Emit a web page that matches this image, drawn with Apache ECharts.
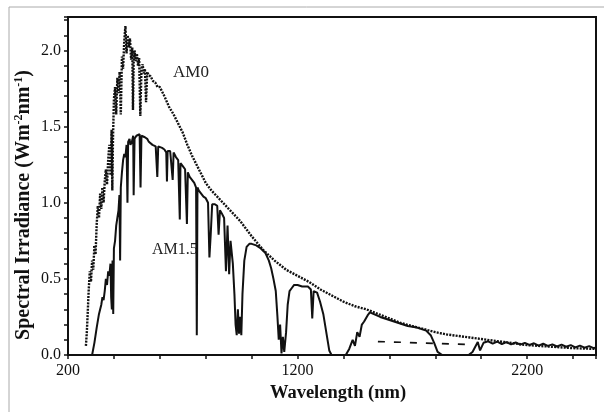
<!DOCTYPE html>
<html>
<head>
<meta charset="utf-8">
<script src="https://cdn.jsdelivr.net/npm/echarts@6/dist/echarts.min.js"></script>
<style>
    html, body { margin: 0; padding: 0; background: #fff; }
    #chart { width: 604px; height: 412px; }
</style>
</head>
<body>
<div id="chart"></div>
<script>
    // wavelength (nm), irradiance (W m-2 nm-1)
    var am0 = [
        [278, 0.06], [282, 0.15], [286, 0.28], [290, 0.42], [295, 0.55], [300, 0.48], [305, 0.62],
        [310, 0.56], [315, 0.72], [320, 0.66], [325, 0.86], [330, 0.98], [335, 0.9], [340, 1.06],
        [345, 0.96], [350, 1.1], [355, 1.0], [360, 1.14], [365, 1.22], [370, 1.12], [375, 1.28],
        [380, 1.38], [385, 1.18], [390, 1.48], [393, 1.08], [396, 1.42], [400, 1.68], [405, 1.76],
        [410, 1.58], [415, 1.82], [420, 1.72], [425, 1.86], [430, 1.58], [435, 1.96], [440, 1.88],
        [445, 2.06], [450, 2.16], [455, 1.98], [460, 2.1], [465, 2.02], [470, 2.08], [475, 1.94],
        [480, 2.02], [483, 1.61], [486, 1.92], [490, 2.0], [495, 1.93], [500, 1.98], [505, 1.9],
        [510, 1.95], [515, 1.57], [520, 1.88], [525, 1.91], [530, 1.85], [535, 1.88], [540, 1.66],
        [545, 1.86], [550, 1.84], [560, 1.83], [570, 1.8], [580, 1.79], [590, 1.76], [600, 1.76],
        [620, 1.7], [640, 1.63], [660, 1.58], [680, 1.52], [700, 1.46], [720, 1.38], [740, 1.31],
        [760, 1.25], [780, 1.19], [800, 1.13], [825, 1.08], [850, 1.04], [875, 1.0], [900, 0.96],
        [925, 0.92], [950, 0.88], [975, 0.83], [1000, 0.78], [1050, 0.69], [1100, 0.62], [1150, 0.56],
        [1200, 0.52], [1250, 0.48], [1300, 0.43], [1350, 0.39], [1400, 0.35], [1450, 0.32],
        [1500, 0.3], [1550, 0.27], [1600, 0.24], [1650, 0.21], [1700, 0.19], [1750, 0.17],
        [1800, 0.15], [1850, 0.135], [1900, 0.125], [1950, 0.115], [2000, 0.105], [2100, 0.085],
        [2200, 0.065], [2300, 0.055], [2400, 0.045], [2500, 0.04]
    ];

    var am15 = [
        [305, 0.0], [315, 0.08], [325, 0.18], [335, 0.27], [345, 0.33], [350, 0.38], [355, 0.36],
        [360, 0.42], [365, 0.5], [370, 0.46], [375, 0.55], [380, 0.52], [385, 0.6], [388, 0.38],
        [391, 0.3], [394, 0.62], [397, 0.27], [400, 0.7], [405, 0.75], [410, 0.85], [415, 0.9],
        [420, 0.95], [424, 1.05], [427, 0.62], [430, 1.1], [435, 1.2], [440, 1.28], [445, 1.32],
        [450, 1.3], [455, 1.38], [459, 1.0], [462, 1.4], [468, 1.42], [472, 1.38], [478, 1.4],
        [484, 1.44], [486, 1.05], [490, 1.42], [498, 1.44], [505, 1.43], [512, 1.45], [516, 1.1],
        [520, 1.44], [528, 1.45], [535, 1.43], [545, 1.42], [552, 1.4], [560, 1.4], [568, 1.38],
        [575, 1.39], [582, 1.37], [589, 1.17], [593, 1.37], [600, 1.38], [610, 1.36], [620, 1.35],
        [628, 1.33], [631, 1.14], [634, 1.34], [645, 1.34], [652, 1.33], [656, 1.15], [660, 1.33],
        [670, 1.3], [680, 1.28], [687, 0.89], [690, 1.26], [700, 1.24], [710, 1.22], [718, 0.86],
        [722, 1.2], [730, 1.17], [740, 1.15], [750, 1.13], [758, 1.1], [761, 0.13], [764, 1.1],
        [770, 1.08], [780, 1.06], [790, 1.04], [800, 1.03], [810, 1.0], [816, 0.64], [822, 0.8],
        [828, 0.99], [840, 0.99], [850, 0.98], [856, 0.79], [862, 0.95], [870, 0.93], [880, 0.9],
        [888, 0.55], [895, 0.85], [902, 0.53], [908, 0.75], [918, 0.6], [925, 0.4], [930, 0.2],
        [935, 0.13], [940, 0.3], [945, 0.14], [950, 0.25], [955, 0.13], [960, 0.4], [968, 0.62],
        [978, 0.71], [990, 0.73], [1000, 0.73], [1020, 0.72], [1040, 0.7], [1060, 0.67],
        [1075, 0.62], [1085, 0.57], [1095, 0.5], [1105, 0.42], [1112, 0.26], [1118, 0.1],
        [1124, 0.2], [1130, 0.01], [1136, 0.12], [1142, 0.02], [1150, 0.15], [1157, 0.33],
        [1165, 0.42], [1175, 0.44], [1185, 0.46], [1200, 0.46], [1220, 0.45], [1245, 0.45],
        [1258, 0.43], [1264, 0.24], [1270, 0.42], [1285, 0.41], [1298, 0.35], [1312, 0.27],
        [1325, 0.15], [1338, 0.03], [1348, 0.0], [1410, 0.0], [1425, 0.04], [1440, 0.1],
        [1450, 0.06], [1460, 0.15], [1470, 0.12], [1480, 0.2], [1490, 0.22], [1505, 0.26],
        [1515, 0.28], [1530, 0.27], [1560, 0.25], [1600, 0.23], [1640, 0.21], [1680, 0.19],
        [1720, 0.18], [1760, 0.16], [1780, 0.13], [1795, 0.08], [1810, 0.02], [1830, 0.0],
        [1945, 0.0], [1962, 0.02], [1985, 0.085], [1995, 0.03], [2010, 0.08], [2030, 0.09],
        [2050, 0.075], [2070, 0.088], [2090, 0.072], [2110, 0.085], [2130, 0.07], [2150, 0.082],
        [2170, 0.068], [2190, 0.08], [2210, 0.066], [2230, 0.077], [2250, 0.062], [2270, 0.074],
        [2290, 0.06], [2310, 0.07], [2330, 0.056], [2350, 0.068], [2370, 0.054], [2390, 0.065],
        [2410, 0.05], [2430, 0.062], [2450, 0.048], [2470, 0.058], [2490, 0.045], [2500, 0.05]
    ];

    // dashed bridge across the 1800-1950 gap
    var gapLine = [[1550, 0.088], [1930, 0.07]];

    var xTicks = [200, 1200, 2200];
    var serif = 'Liberation Serif';

    var chart = echarts.init(document.getElementById('chart'));
    chart.setOption({
        backgroundColor: '#fff',
        animation: false,
        grid: {
            left: 68, right: 8, top: 17, bottom: 57,
            show: true, borderColor: '#111', borderWidth: 2
        },
        xAxis: {
            type: 'value',
            min: 200, max: 2500, interval: 200,
            name: 'Wavelength (nm)',
            nameLocation: 'middle',
            nameGap: 29,
            nameMoveOverlap: false,
            nameTextStyle: { fontFamily: serif, fontWeight: 'bold', fontSize: 18.5, color: '#111', padding: [0, 0, 0, 12] },
            axisLine: { lineStyle: { color: '#111', width: 2 } },
            axisTick: { length: 4, lineStyle: { color: '#111', width: 1.5 } },
            axisLabel: {
                margin: 8,
                fontFamily: serif, fontSize: 16, color: '#111',
                formatter: function (v) { return xTicks.indexOf(v) >= 0 ? String(v) : ''; }
            },
            splitLine: { show: false }
        },
        yAxis: {
            type: 'value',
            min: 0, max: 2.22, interval: 0.1,
            name: '{a|Spectral Irradiance (Wm}{s|-2}{a|nm}{s|-1}{a|)}',
            nameLocation: 'middle',
            nameGap: 33,
            nameMoveOverlap: false,
            nameTextStyle: {
                color: '#111',
                padding: [0, 38, 0, 0],
                rich: {
                    a: { fontFamily: serif, fontWeight: 'bold', fontSize: 20, color: '#111' },
                    s: { fontFamily: serif, fontWeight: 'bold', fontSize: 12, color: '#111', padding: [0, 0, 10, 0] }
                }
            },
            axisLine: { show: true, lineStyle: { color: '#111', width: 2 } },
            axisTick: { show: true, length: 4, lineStyle: { color: '#111', width: 1.5 } },
            axisLabel: {
                margin: 7,
                fontFamily: serif, fontSize: 16, color: '#111',
                formatter: function (v) {
                    var k = Math.round(v * 10);
                    return (k % 5 === 0 && Math.abs(v * 10 - k) < 1e-6 && v <= 2.0) ? v.toFixed(1) : '';
                }
            },
            splitLine: { show: false }
        },
        series: [
            {
                name: 'AM0', type: 'line', data: am0, showSymbol: false,
                lineStyle: { color: '#111', width: 2.4, type: [2, 1.2] }
            },
            {
                name: 'AM1.5', type: 'line', data: am15, showSymbol: false,
                lineStyle: { color: '#111', width: 2 }
            },
            {
                name: 'gap', type: 'line', data: gapLine, showSymbol: false,
                lineStyle: { color: '#111', width: 1.6, type: [7, 9] }
            }
        ],
        graphic: [
            { type: 'line', shape: { x1: 9, y1: 7, x2: 604, y2: 7 }, style: { stroke: '#aaa', lineWidth: 1 } },
            { type: 'line', shape: { x1: 9, y1: 7, x2: 9, y2: 412 }, style: { stroke: '#aaa', lineWidth: 1 } },
            { type: 'text', left: 173, top: 64, style: { text: 'AM0', font: '17px "Liberation Serif"', fill: '#222' } },
            { type: 'text', left: 152, top: 242, style: { text: 'AM1.5', font: '16px "Liberation Serif"', fill: '#222' } }
        ]
    });
</script>
</body>
</html>
